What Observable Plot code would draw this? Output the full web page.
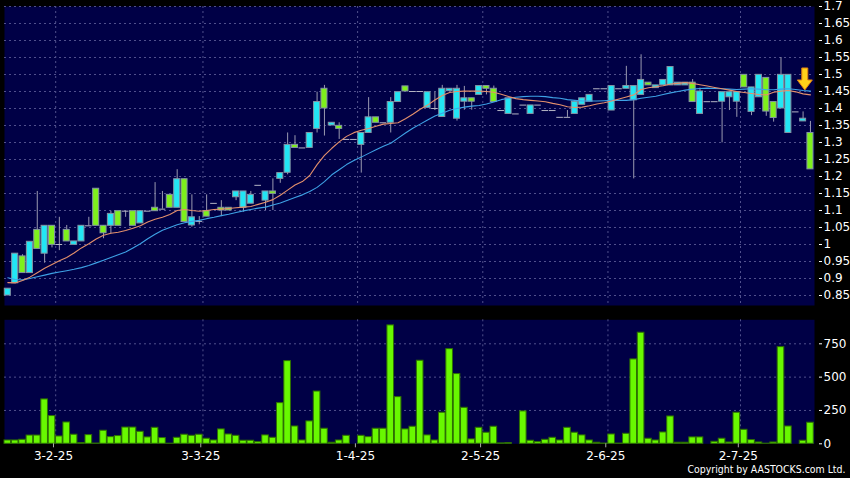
<!DOCTYPE html>
<html><head><meta charset="utf-8">
<script src="https://cdn.jsdelivr.net/npm/d3@7"></script>
<script src="https://cdn.jsdelivr.net/npm/@observablehq/plot@0.6"></script>
<style>
html,body{margin:0;padding:0;background:#000;}
#chart{width:850px;height:478px;position:relative;overflow:hidden;background:#000}
#chart svg{display:block}
#chart svg text{font-family:'DejaVu Sans',sans-serif;font-size:12px}
#chart svg text.copy{font-family:'DejaVu Sans Condensed','Liberation Sans Narrow','DejaVu Sans',sans-serif;font-size:10.5px}
</style></head><body><div id="chart"></div>
<script>
// ---- data (one entry per trading session) ----
const openP = [0.85,0.886,0.965,0.916,1.043,0.973,1.055,1.0,1.043,0.999,
1.009,1.055,1.164,1.055,1.055,1.098,1.098,1.098,1.062,1.098,
1.108,1.104,1.146,1.108,1.192,1.056,1.068,1.098,1.121,1.108,
1.108,1.139,1.108,1.12,1.174,1.129,1.156,1.193,1.211,1.293,
1.284,1.284,1.34,1.458,1.35,1.349,1.309,1.309,1.293,1.328,
1.374,1.358,1.358,1.419,1.465,1.45,1.45,1.402,1.40,1.375,
1.451,1.37,1.42,1.43,1.44,1.466,1.458,1.394,1.384,1.384,
1.41,1.384,1.41,1.394,1.394,1.374,1.374,1.384,1.411,1.42,
1.458,1.458,1.394,1.458,1.458,1.424,1.44,1.476,1.46,1.468,
1.468,1.468,1.468,1.476,1.384,1.42,1.42,1.42,1.433,1.42,
1.499,1.39,1.433,1.49,1.419,1.4,1.328,1.39,1.362,1.328];
const closeP = [0.87,0.973,0.916,1.008,0.987,1.055,0.999,1.0,1.009,1.009,
1.055,1.055,1.055,1.033,1.09,1.055,1.098,1.055,1.098,1.098,
1.098,1.104,1.108,1.192,1.066,1.08,1.068,1.082,1.121,1.1,
1.1,1.156,1.156,1.146,1.174,1.156,1.149,1.21,1.293,1.284,
1.284,1.328,1.419,1.4,1.358,1.34,1.309,1.309,1.328,1.374,
1.358,1.358,1.419,1.448,1.45,1.45,1.45,1.448,1.40,1.458,
1.458,1.458,1.43,1.42,1.466,1.458,1.419,1.394,1.43,1.384,
1.41,1.409,1.41,1.394,1.394,1.374,1.374,1.42,1.43,1.44,
1.458,1.458,1.466,1.458,1.466,1.466,1.484,1.468,1.468,1.484,
1.522,1.476,1.476,1.419,1.45,1.42,1.42,1.448,1.448,1.448,
1.462,1.462,1.499,1.391,1.372,1.499,1.499,1.39,1.37,1.221];
const highP = [0.87,0.973,0.97,1.008,1.156,1.055,1.055,1.08,1.056,1.009,
1.055,1.08,1.164,1.055,1.098,1.098,1.098,1.098,1.098,1.098,
1.182,1.156,1.146,1.22,1.192,1.146,1.082,1.146,1.121,1.129,
1.108,1.156,1.156,1.156,1.174,1.156,1.193,1.21,1.328,1.32,
1.284,1.328,1.448,1.468,1.358,1.358,1.309,1.309,1.328,1.432,
1.374,1.358,1.432,1.448,1.465,1.45,1.45,1.448,1.448,1.468,
1.458,1.468,1.465,1.43,1.466,1.466,1.466,1.394,1.43,1.384,
1.41,1.409,1.41,1.394,1.394,1.374,1.394,1.42,1.43,1.44,
1.458,1.458,1.466,1.458,1.524,1.466,1.558,1.476,1.468,1.484,
1.522,1.476,1.476,1.485,1.46,1.42,1.42,1.448,1.448,1.448,
1.499,1.462,1.499,1.49,1.419,1.55,1.499,1.39,1.39,1.362];
const lowP = [0.85,0.886,0.916,0.916,0.987,0.945,0.99,0.982,1.009,0.999,
1.009,1.055,1.055,1.017,1.032,1.055,1.08,1.055,1.062,1.098,
1.098,1.104,1.108,1.108,1.066,1.051,1.058,1.082,1.121,1.082,
1.1,1.129,1.095,1.12,1.174,1.1,1.1,1.18,1.205,1.284,
1.284,1.284,1.328,1.319,1.35,1.309,1.309,1.309,1.21,1.328,
1.358,1.358,1.328,1.419,1.45,1.45,1.45,1.402,1.394,1.375,
1.451,1.363,1.395,1.395,1.44,1.44,1.419,1.394,1.384,1.384,
1.41,1.384,1.41,1.394,1.394,1.374,1.374,1.384,1.411,1.42,
1.458,1.458,1.394,1.458,1.458,1.193,1.44,1.468,1.46,1.468,
1.468,1.468,1.468,1.419,1.384,1.42,1.42,1.299,1.394,1.374,
1.462,1.379,1.433,1.377,1.36,1.4,1.328,1.39,1.362,1.221];
const volume = [25,25,30,62,62,333,208,55,160,68,
5,65,2,98,50,58,122,122,90,48,
120,43,1,45,68,60,68,38,25,108,
70,60,23,23,13,63,45,305,620,130,
25,168,392,113,8,25,60,0,60,50,
113,113,888,350,108,128,623,63,25,233,
710,523,270,33,120,83,128,3,5,0,
243,23,13,30,45,25,120,83,63,25,
8,2,70,2,75,633,833,38,25,85,
205,8,8,48,48,0,15,38,10,233,
105,28,10,1,10,725,130,0,23,158];
const maShort = [0.888,0.887,0.894,0.904,0.917,0.930,0.941,0.952,0.962,0.975,
0.990,1.002,1.016,1.027,1.033,1.036,1.041,1.048,1.055,1.066,
1.074,1.080,1.088,1.100,1.103,1.100,1.098,1.100,1.103,1.104,
1.106,1.108,1.110,1.112,1.118,1.124,1.132,1.145,1.160,1.175,
1.185,1.203,1.235,1.262,1.283,1.302,1.318,1.329,1.336,1.341,
1.348,1.354,1.356,1.358,1.370,1.383,1.398,1.410,1.425,1.438,
1.447,1.450,1.451,1.451,1.451,1.450,1.448,1.442,1.435,1.429,
1.426,1.424,1.422,1.420,1.415,1.411,1.405,1.403,1.404,1.408,
1.413,1.417,1.422,1.428,1.434,1.440,1.456,1.461,1.464,1.467,
1.472,1.474,1.476,1.474,1.470,1.466,1.462,1.458,1.454,1.450,
1.447,1.444,1.441,1.440,1.448,1.451,1.453,1.449,1.443,1.440];
const maLong = [0.902,0.897,0.896,0.900,0.905,0.910,0.915,0.919,0.923,0.927,
0.932,0.938,0.946,0.954,0.962,0.970,0.978,0.990,1.002,1.017,
1.030,1.042,1.050,1.058,1.064,1.068,1.071,1.076,1.080,1.085,
1.089,1.094,1.099,1.103,1.107,1.110,1.116,1.122,1.130,1.138,
1.146,1.156,1.168,1.185,1.205,1.220,1.235,1.247,1.257,1.268,
1.279,1.289,1.298,1.313,1.328,1.342,1.354,1.366,1.378,1.386,
1.395,1.400,1.404,1.407,1.409,1.413,1.419,1.426,1.430,1.433,
1.435,1.436,1.436,1.435,1.432,1.430,1.426,1.424,1.422,1.422,
1.422,1.423,1.424,1.424,1.424,1.426,1.430,1.433,1.436,1.441,
1.446,1.450,1.454,1.457,1.459,1.460,1.459,1.458,1.457,1.456,
1.457,1.458,1.457,1.455,1.455,1.457,1.458,1.456,1.453,1.451];
const dateTickIndex = [6, 26, 47, 64, 81, 99];
const dateTickLabels = ["3-2-25", "3-3-25", "1-4-25", "2-5-25", "2-6-25", "2-7-25"];
const priceTicks = [0.85,0.9,0.95,1,1.05,1.1,1.15,1.2,1.25,1.3,1.35,1.4,1.45,1.5,1.55,1.6,1.65,1.7];
const volumeTicks = [0, 250, 500, 750];
const arrowMarker = [{i: 108.3, price: 1.453}];
const copyright = "Copyright by AASTOCKS.com Ltd.";

// ---- build rows ----
const rows = openP.map((o, i) => ({i, o, c: closeP[i], h: highP[i], l: lowP[i], v: volume[i], ma1: maShort[i], ma2: maLong[i]}));
const bodies = rows.filter(d => d.o !== d.c);
const dojis = rows.filter(d => d.o === d.c);

const NAVY = "#000046";
const GRID = "#50508c";
const X_DOMAIN = [-0.45, 109.55];
const font = {background: "#000", color: "#fff", fontFamily: "'DejaVu Sans', sans-serif", fontSize: "12px", overflow: "visible"};
const fmtP = d => String(+d.toFixed(2));

function arrowMark(data) {
  return (index, scales) => {
    const g = d3.create("svg:g");
    for (const d of data) {
      const x = scales.x(d.i), y = scales.y(d.price);
      g.append("path")
        .attr("d", `M${x},${y} L${x-7.5},${y-10} L${x-3},${y-10} L${x-3},${y-22} L${x+3},${y-22} L${x+3},${y-10} L${x+7.5},${y-10} Z`)
        .attr("fill", "#ffd21a").attr("stroke", "#e08010").attr("stroke-width", 1);
    }
    return g.node();
  };
}

const pricePlot = Plot.plot({
  width: 850, height: 310,
  marginLeft: 4, marginRight: 36, marginTop: 6, marginBottom: 5,
  style: font,
  x: {domain: X_DOMAIN, axis: null},
  y: {domain: [0.8206, 1.7], axis: null},
  marks: [
    Plot.frame({fill: NAVY, stroke: null}),
    Plot.ruleY(priceTicks, {stroke: GRID, strokeDasharray: "2,3"}),
    Plot.ruleX(dateTickIndex, {dx: 3.7, stroke: GRID, strokeDasharray: "2,3"}),
    Plot.ruleX(rows, {x: "i", y1: "l", y2: "h", stroke: "#9a9ab0"}),
    Plot.rect(bodies, {x1: d => d.i - 0.41, x2: d => d.i + 0.41, y1: "o", y2: "c",
      fill: d => d.c > d.o ? "#22e6f4" : "#7ef01c", stroke: "#8494a4", strokeWidth: 1}),
    Plot.ruleY(dojis, {y: "c", x1: d => d.i - 0.45, x2: d => d.i + 0.45, stroke: "#b4b4c4"}),
    Plot.line(rows, {x: "i", y: "ma2", stroke: "#3ea2e6", strokeWidth: 1.1}),
    Plot.line(rows, {x: "i", y: "ma1", stroke: "#e4906c", strokeWidth: 1.1}),
    arrowMark(arrowMarker),
    Plot.axisY(priceTicks, {anchor: "right", label: null, tickSize: 3, tickPadding: 2, dx: 4, tickFormat: fmtP, color: "#fff"})
  ]
});

const volumePlot = Plot.plot({
  width: 850, height: 168,
  marginLeft: 4, marginRight: 36, marginTop: 9.3, marginBottom: 34.7,
  style: font,
  x: {domain: X_DOMAIN, axis: null},
  y: {domain: [0, 930], axis: null},
  marks: [
    Plot.frame({fill: NAVY, stroke: null}),
    Plot.ruleY(volumeTicks.slice(1), {stroke: GRID, strokeDasharray: "2,3"}),
    Plot.ruleX(dateTickIndex, {dx: 3.7, stroke: GRID, strokeDasharray: "2,3"}),
    Plot.rectY(rows, {x1: d => d.i - 0.45, x2: d => d.i + 0.45, y: "v", fill: "#68f800", stroke: "#2e7000", strokeWidth: 1}),
    Plot.axisY(volumeTicks, {anchor: "right", label: null, tickSize: 3, tickPadding: 2, dx: 4, color: "#fff"}),
    Plot.axisX(dateTickIndex, {anchor: "bottom", label: null, tickSize: 4, tickPadding: 3.5, dx: 1.5,
      tickFormat: i => dateTickLabels[dateTickIndex.indexOf(i)], color: "#fff", stroke: "#aaa"}),
    Plot.text([copyright], {frameAnchor: "bottom-right", dx: 31, dy: 29, textAnchor: "end", fill: "#fff"})
  ]
});

const root = document.getElementById("chart");
root.appendChild(pricePlot);
root.appendChild(volumePlot);
// condense the copyright line to the reference's width
d3.select(volumePlot).selectAll("text").filter(function() { return this.textContent === copyright; })
  .classed("copy", true).attr("textLength", 158).attr("lengthAdjust", "spacingAndGlyphs");
</script>
</body></html>
